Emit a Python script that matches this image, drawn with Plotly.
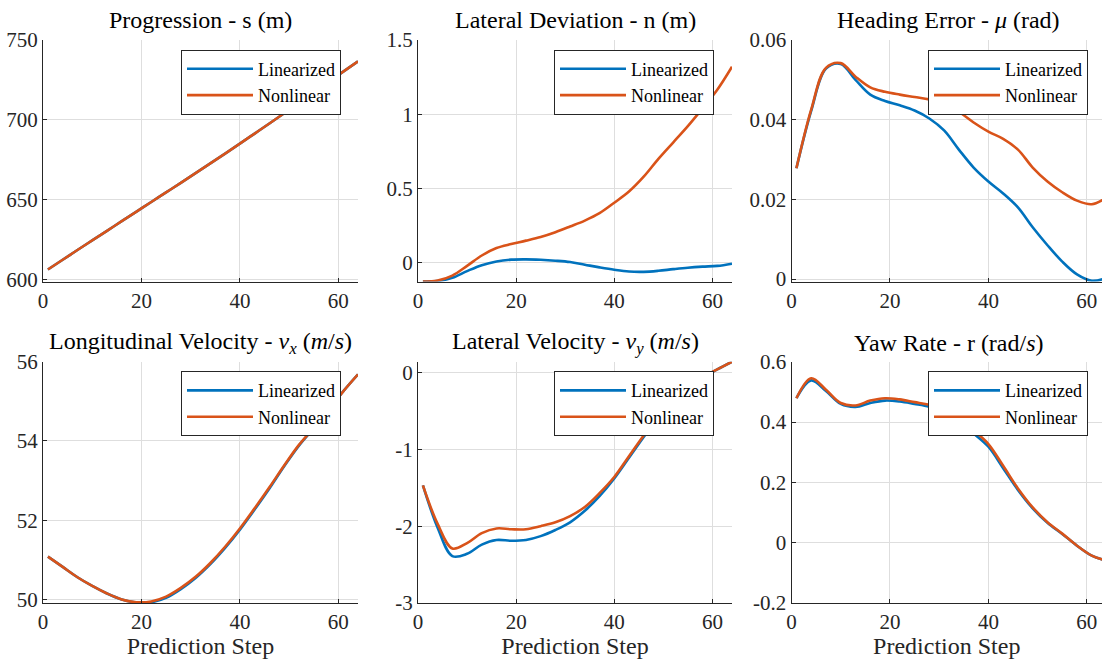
import plotly.graph_objects as go

# ---------------- data ----------------
steps = [1, 4, 7, 10, 13, 16, 19, 22, 25, 28, 31, 34, 37, 40, 43, 46, 49, 52, 55, 58, 61, 64]

s_lin = [606.5, 612.6, 618.7, 624.7, 630.7, 636.7, 642.7, 648.7, 654.7, 660.7, 666.8,
         672.9, 679.0, 685.2, 691.5, 697.8, 704.2, 710.7, 717.2, 723.7, 730.2, 736.6]
s_nl = [606.5, 612.6, 618.7, 624.7, 630.7, 636.7, 642.7, 648.7, 654.7, 660.7, 666.8,
        672.9, 679.0, 685.2, 691.5, 697.8, 704.2, 710.7, 717.2, 723.7, 730.2, 736.6]

n_lin = [-0.125, -0.122, -0.100, -0.055, -0.015, 0.010, 0.022, 0.024, 0.021, 0.015, 0.006,
         -0.012, -0.030, -0.046, -0.058, -0.060, -0.053, -0.042, -0.032, -0.025, -0.020, -0.005]
n_nl = [-0.125, -0.118, -0.085, -0.020, 0.050, 0.100, 0.127, 0.150, 0.175, 0.207, 0.245,
        0.285, 0.335, 0.405, 0.480, 0.580, 0.700, 0.810, 0.920, 1.040, 1.165, 1.320]

mu_lin = [0.0278, 0.0422, 0.0528, 0.0540, 0.0500, 0.0463, 0.0447, 0.0436, 0.0423, 0.0403, 0.0373,
          0.0325, 0.0280, 0.0245, 0.0215, 0.0180, 0.0130, 0.0085, 0.0044, 0.0012, -0.0004, 0.0003]
mu_nl = [0.0278, 0.0425, 0.0530, 0.0542, 0.0508, 0.0481, 0.0470, 0.0463, 0.0457, 0.0451, 0.0442,
         0.0420, 0.0393, 0.0370, 0.0352, 0.0325, 0.0280, 0.0245, 0.0218, 0.0197, 0.0188, 0.0205]

vx_lin = [51.08, 50.82, 50.56, 50.34, 50.15, 50.00, 49.92, 49.93, 50.04, 50.26, 50.54,
          50.89, 51.30, 51.76, 52.27, 52.80, 53.36, 53.88, 54.32, 54.77, 55.25, 55.68]
vx_nl = [51.08, 50.82, 50.56, 50.34, 50.15, 50.00, 49.93, 49.95, 50.07, 50.29, 50.57,
         50.92, 51.33, 51.79, 52.30, 52.83, 53.38, 53.90, 54.33, 54.78, 55.25, 55.68]

vy_lin = [-1.47, -2.02, -2.39, -2.36, -2.24, -2.18, -2.19, -2.18, -2.13, -2.05, -1.95,
          -1.80, -1.61, -1.38, -1.11, -0.84, -0.58, -0.37, -0.20, -0.07, 0.04, 0.14]
vy_nl = [-1.47, -1.97, -2.29, -2.22, -2.09, -2.03, -2.04, -2.04, -2.00, -1.95, -1.87,
         -1.75, -1.57, -1.36, -1.09, -0.82, -0.57, -0.36, -0.19, -0.06, 0.04, 0.14]

r_lin = [0.479, 0.538, 0.503, 0.460, 0.450, 0.463, 0.471, 0.468, 0.460, 0.451, 0.438,
         0.403, 0.362, 0.318, 0.247, 0.175, 0.114, 0.066, 0.029, -0.010, -0.043, -0.060]
r_nl = [0.479, 0.545, 0.507, 0.463, 0.455, 0.471, 0.479, 0.475, 0.466, 0.457, 0.445,
        0.412, 0.372, 0.327, 0.255, 0.180, 0.117, 0.068, 0.030, -0.010, -0.043, -0.060]

series_names = ["Linearized", "Nonlinear"]

titles = [
    "Progression - s (m)",
    "Lateral Deviation - n (m)",
    "Heading Error - <i>μ</i> (rad)",
    "Longitudinal Velocity - <i>v<sub>x</sub></i> (<i>m</i>/<i>s</i>)",
    "Lateral Velocity - <i>v<sub>y</sub></i> (<i>m</i>/<i>s</i>)",
    "Yaw Rate - r (rad/<i>s</i>)",
]
x_label = "Prediction Step"

x_tickvals = [0, 20, 40, 60]
x_ticktext = ["0", "20", "40", "60"]

y_tickvals = [
    [600, 650, 700, 750],
    [0, 0.5, 1, 1.5],
    [0, 0.02, 0.04, 0.06],
    [50, 52, 54, 56],
    [-3, -2, -1, 0],
    [-0.2, 0, 0.2, 0.4, 0.6],
]
y_ticktext = [
    ["600", "650", "700", "750"],
    ["0", "0.5", "1", "1.5"],
    ["0", "0.02", "0.04", "0.06"],
    ["50", "52", "54", "56"],
    ["-3", "-2", "-1", "0"],
    ["-0.2", "0", "0.2", "0.4", "0.6"],
]

panel_data = [
    (s_lin, s_nl), (n_lin, n_nl), (mu_lin, mu_nl),
    (vx_lin, vx_nl), (vy_lin, vy_nl), (r_lin, r_nl),
]

# ---------------- layout parameters ----------------
W, H = 1102, 659
FONT = "Liberation Serif"
colors = ["#0072BD", "#D95319"]

col_px = [(43, 358), (418, 732), (791.5, 1102)]
row_px = [(40, 281.5), (361.7, 603)]
x_ranges = [[0, 64], [0, 64], [0, 63.08]]
y_ranges = [[599, 750], [-0.125, 1.5], [-0.0006, 0.06],
            [49.91, 56], [-3, 0.14], [-0.2, 0.6]]
legend_right_px = [341, 714, 1088]
title_center_px = [200.5, 575, 948.75]

fig = go.Figure()
layout = dict(
    width=W, height=H, autosize=False,
    margin=dict(l=0, r=0, t=0, b=0, pad=0, autoexpand=False),
    paper_bgcolor="white", plot_bgcolor="white",
    font=dict(family=FONT, color="#262626", size=19),
    annotations=[],
)

for i in range(6):
    r, c = divmod(i, 3)
    ax = "" if i == 0 else str(i + 1)
    lg = "legend" if i == 0 else "legend" + str(i + 1)
    for k in range(2):
        fig.add_trace(go.Scatter(
            x=steps, y=panel_data[i][k], mode="lines",
            name=series_names[k],
            line=dict(color=colors[k], width=2.6, shape="spline", smoothing=1.0),
            xaxis="x" + ax, yaxis="y" + ax, legend=lg,
        ))
    x0, x1 = col_px[c]
    y0, y1 = row_px[r]
    xa = dict(
        domain=[x0 / W, min(x1 / W, 1.0)], anchor="y" + ax, automargin=False,
        range=x_ranges[c], tickvals=x_tickvals, ticktext=x_ticktext,
        showgrid=True, gridcolor="#dedede", gridwidth=1,
        showline=True, linecolor="#262626", linewidth=1,
        ticks="inside", ticklen=4, tickcolor="#262626",
        zeroline=False, tickfont=dict(family=FONT, size=21, color="#262626"),
    )
    if r == 1:
        xa["title"] = dict(text=x_label, font=dict(family=FONT, size=24, color="#262626"), standoff=2)
    layout["xaxis" + ax] = xa
    layout["yaxis" + ax] = dict(
        domain=[1 - y1 / H, 1 - y0 / H], anchor="x" + ax, automargin=False,
        range=y_ranges[i], tickvals=y_tickvals[i], ticktext=y_ticktext[i],
        showgrid=True, gridcolor="#dedede", gridwidth=1,
        showline=True, linecolor="#262626", linewidth=1,
        ticks="inside", ticklen=4, tickcolor="#262626",
        zeroline=False, tickfont=dict(family=FONT, size=21, color="#262626"),
    )
    layout[lg] = dict(
        x=legend_right_px[c] / W, xanchor="right",
        y=1 - (y0 + 9.5) / H, yanchor="top",
        bgcolor="white", bordercolor="#262626", borderwidth=1,
        font=dict(family=FONT, size=18, color="#000000"),
        itemwidth=66, tracegroupgap=0,
    )
    layout["annotations"].append(dict(
        text=titles[i], x=title_center_px[c] / W, y=1 - (20 if r == 0 else 343) / H,
        xref="paper", yref="paper", xanchor="center", yanchor="middle",
        showarrow=False, font=dict(family=FONT, size=24, color="#000000"),
    ))

fig.update_layout(**layout)
fig.update_layout(showlegend=True)
fig.write_html("out.html")
